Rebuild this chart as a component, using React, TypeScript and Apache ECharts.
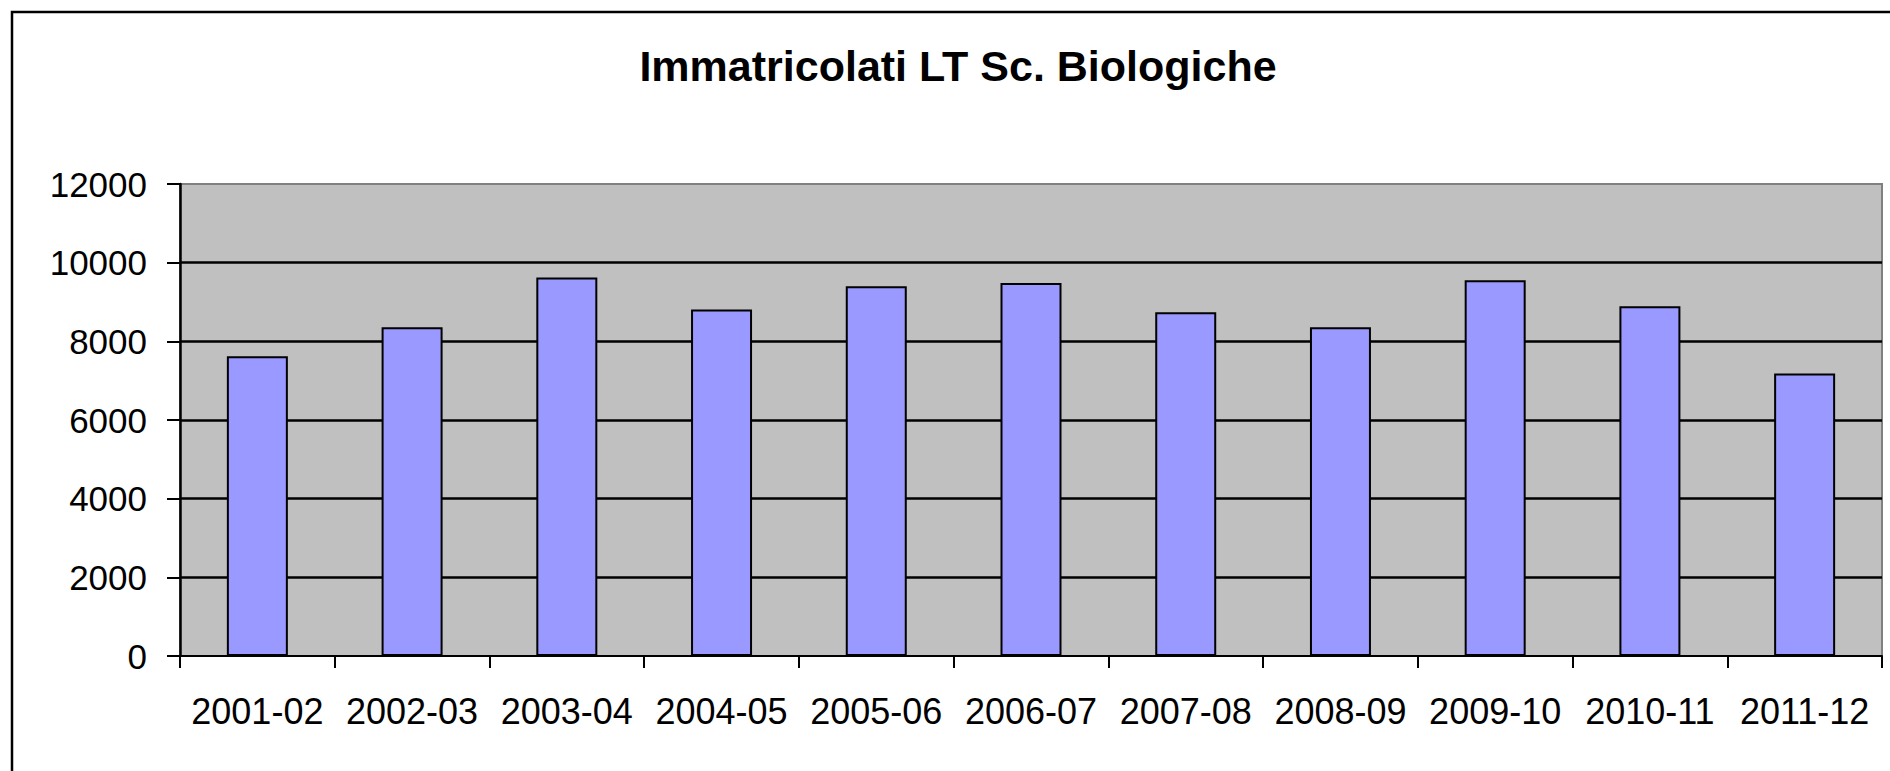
import React, { useEffect, useRef } from "react";
import * as echarts from "echarts";

const TITLE = "Immatricolati LT Sc. Biologiche";
const CATEGORIES = [
  "2001-02", "2002-03", "2003-04", "2004-05", "2005-06", "2006-07",
  "2007-08", "2008-09", "2009-10", "2010-11", "2011-12",
];
const VALUES = [7620, 8360, 9620, 8810, 9400, 9480, 8740, 8360, 9550, 8890, 7180];
const Y_MIN = 0;
const Y_MAX = 12000;
const Y_INTERVAL = 2000;

const FONT = "'Liberation Sans', Arial, sans-serif";

export default function App() {
  const ref = useRef<HTMLDivElement>(null);

  useEffect(() => {
    if (!ref.current) return;
    const chart = echarts.init(ref.current, null, { renderer: "svg" });
    chart.setOption({
      animation: false,
      backgroundColor: "#ffffff",
      graphic: [
        {
          type: "rect",
          shape: { x: 12, y: 12, width: 1960, height: 860 },
          style: { fill: "none", stroke: "#000000", lineWidth: 2.5 },
          silent: true,
          z: 100,
        },
        {
          type: "text",
          x: 958,
          y: 66,
          style: {
            text: TITLE,
            fill: "#000000",
            font: `bold 43px ${FONT}`,
            align: "center",
            verticalAlign: "middle",
          },
        },
      ],
      grid: {
        left: 180,
        right: 8,
        top: 184,
        bottom: 115,
        show: true,
        backgroundColor: "#C0C0C0",
        borderColor: "#808080",
        borderWidth: 2,
      },
      xAxis: {
        type: "category",
        data: CATEGORIES,
        axisLine: { show: true, lineStyle: { color: "#000000", width: 2 } },
        axisTick: {
          show: true,
          interval: 0,
          alignWithLabel: false,
          inside: false,
          length: 12,
          lineStyle: { color: "#000000", width: 2 },
        },
        axisLabel: {
          interval: 0,
          margin: 37,
          color: "#000000",
          fontSize: 36,
          fontFamily: FONT,
        },
        splitLine: { show: false },
      },
      yAxis: {
        type: "value",
        min: Y_MIN,
        max: Y_MAX,
        interval: Y_INTERVAL,
        axisLine: { show: true, lineStyle: { color: "#000000", width: 2.5 } },
        axisTick: {
          show: true,
          inside: false,
          length: 13,
          lineStyle: { color: "#000000", width: 2 },
        },
        axisLabel: {
          margin: 33,
          color: "#000000",
          fontSize: 35,
          fontFamily: FONT,
          formatter: (v: number) => String(v),
        },
        splitLine: {
          show: true,
          showMaxLine: false,
          showMinLine: false,
          lineStyle: { color: "#000000", width: 2.5 },
        },
      },
      series: [
        {
          type: "bar",
          data: VALUES,
          barWidth: 61,
          itemStyle: {
            color: "#9999FF",
            borderColor: "#000000",
            borderWidth: 2,
          },
        },
      ],
    });
    return () => chart.dispose();
  }, []);

  return (
    <div
      ref={ref}
      style={{ position: "fixed", left: 0, top: 0, width: 1890, height: 771 }}
    />
  );
}
